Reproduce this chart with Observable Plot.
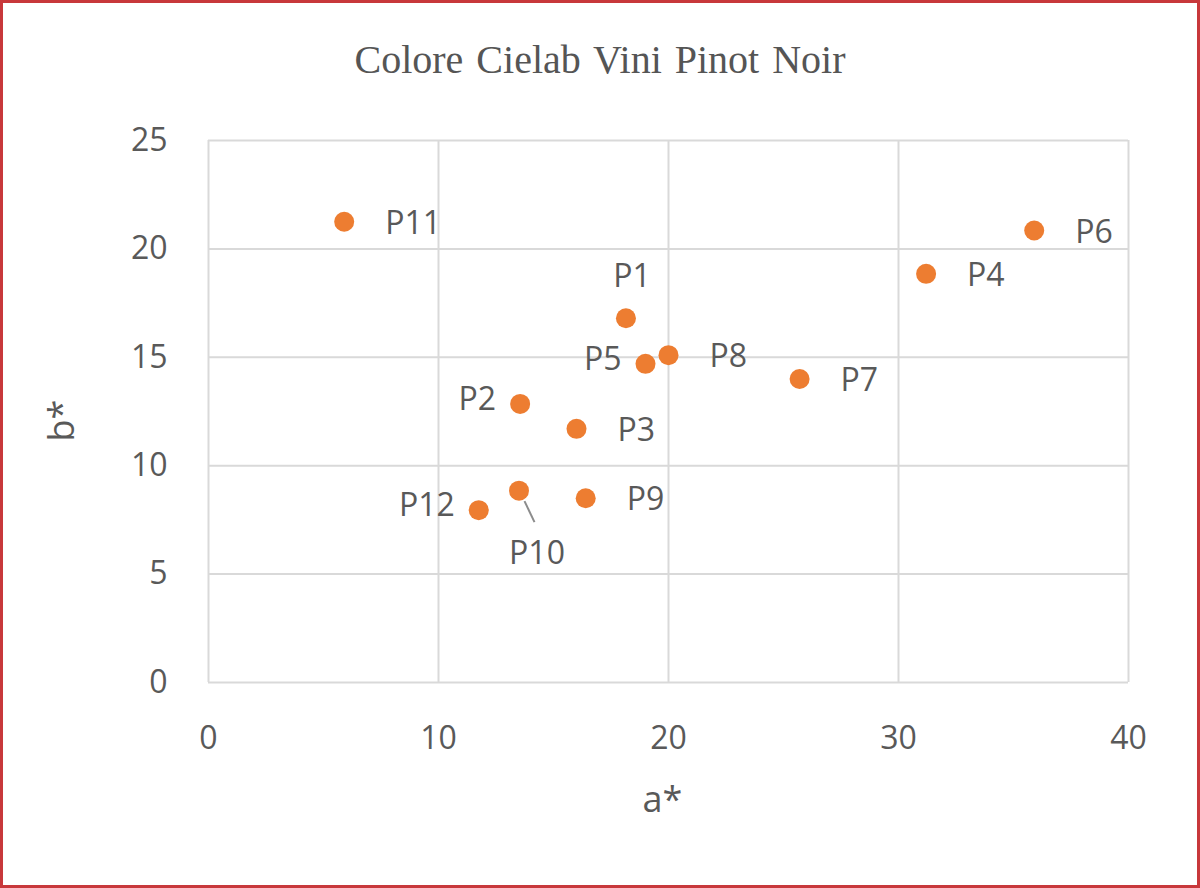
<!DOCTYPE html>
<html>
<head>
<meta charset="utf-8">
<script src="https://cdn.jsdelivr.net/npm/d3@7"></script>
<script src="https://cdn.jsdelivr.net/npm/@observablehq/plot@0.6"></script>
<style>
  html, body { margin: 0; padding: 0; background: #fff; }
  #frame { position: relative; width: 1200px; height: 888px; box-sizing: border-box;
           border: 3px solid #c8383b; overflow: hidden; background: #fff; }
  #title { position: absolute; left: 0; right: 0; top: 37px; text-align: center;
           font-family: "Liberation Serif", "DejaVu Serif", serif; font-size: 40px;
           line-height: 40px; color: #555; word-spacing: 3px; }
  #chart { position: absolute; left: 0; top: 97px; }
</style>
</head>
<body>
<div id="frame">
  <div id="title">Colore Cielab Vini Pinot Noir</div>
  <div id="chart"></div>
</div>
<script>
// ---- data ----
const names = ["P1","P2","P3","P4","P5","P6","P7","P8","P9","P10","P11","P12"];
const aStar = [18.15, 13.55, 16.0, 31.2, 19.0, 35.9, 25.7, 20.0, 16.4, 13.5, 5.9, 11.75];
const bStar = [16.8, 12.85, 11.7, 18.85, 14.7, 20.85, 14.0, 15.1, 8.5, 8.85, 21.25, 7.95];
const labelSide = ["above","left","right","right","left","right","right","right","right","below","right","left"];
const xTicks = [0, 10, 20, 30, 40];
const yTicks = [0, 5, 10, 15, 20, 25];
const xTitle = "a*";
const yTitle = "b*";

const data = names.map((n, i) => ({name: n, a: aStar[i], b: bStar[i], side: labelSide[i]}));

const labelColor = "#595959";
const font = "'Open Sans', 'Noto Sans', sans-serif";
const side = s => data.filter(d => d.side === s);

const plot = Plot.plot({
  width: 1194,
  height: 785,
  marginLeft: 205,
  marginRight: 69,
  marginTop: 40,
  marginBottom: 203,
  style: { fontFamily: font, fontSize: "32px", color: labelColor, background: "transparent" },
  x: { domain: [0, 40], ticks: xTicks },
  y: { domain: [0, 25], ticks: yTicks },
  marks: [
    Plot.gridX(xTicks, { stroke: "#d9d9d9", strokeOpacity: 1, strokeWidth: 2 }),
    Plot.gridY(yTicks, { stroke: "#d9d9d9", strokeOpacity: 1, strokeWidth: 2 }),
    Plot.axisX(xTicks, { tickSize: 0, tickPadding: 44, label: null, fill: labelColor, fontSize: 32 }),
    Plot.axisY(yTicks, { tickSize: 0, tickPadding: 41, label: null, fill: labelColor, fontSize: 32 }),
    Plot.dot(data, { x: "a", y: "b", r: 10, fill: "#ED7D31", stroke: "none" }),
    Plot.text(side("right"), { x: "a", y: "b", text: "name", textAnchor: "start", dx: 41, dy: 2, fill: labelColor, fontSize: 32 }),
    Plot.text(side("left"), { x: "a", y: "b", text: "name", textAnchor: "end", dx: -24, dy: -4, fill: labelColor, fontSize: 32 }),
    Plot.text(side("above"), { x: "a", y: "b", text: "name", textAnchor: "middle", dx: 6, dy: -42, fill: labelColor, fontSize: 32 }),
    Plot.text(side("below"), { x: "a", y: "b", text: "name", textAnchor: "middle", dx: 18, dy: 63, fill: labelColor, fontSize: 32 }),
    Plot.text([xTitle], { frameAnchor: "bottom", text: d => d, dx: -6, dy: 118, fill: labelColor, fontSize: 36, lineAnchor: "middle" }),
    Plot.text([yTitle], { frameAnchor: "left", text: d => d, dx: -146, dy: 30, rotate: -90, fill: labelColor, fontSize: 36, lineAnchor: "middle" })
  ]
});

// leader line for the label that was moved below its point
const sx = plot.scale("x"), sy = plot.scale("y");
const svg = d3.select(plot);
side("below").forEach(d => {
  const px = sx.apply(d.a), py = sy.apply(d.b);
  svg.append("line")
    .attr("x1", px + 6).attr("y1", py + 11)
    .attr("x2", px + 16).attr("y2", py + 32)
    .attr("stroke", "#8c8c8c").attr("stroke-width", 2);
});

document.getElementById("chart").appendChild(plot);
</script>
</body>
</html>
